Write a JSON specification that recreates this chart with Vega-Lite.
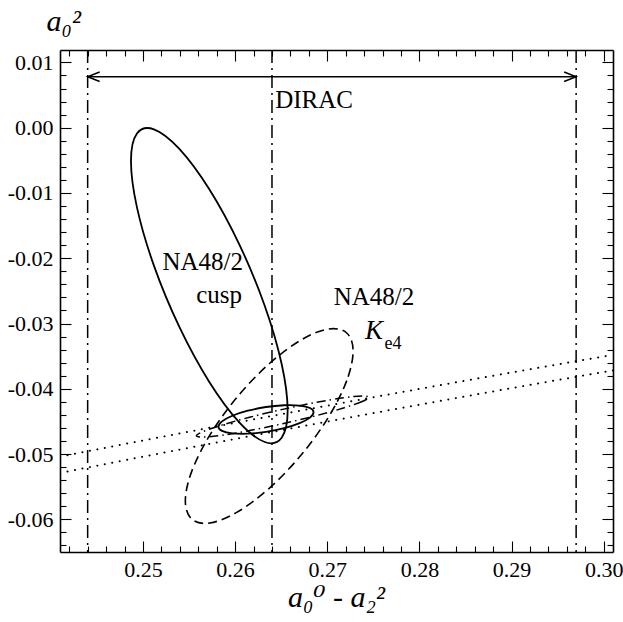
{
  "$schema": "https://vega.github.io/schema/vega-lite/v6.json",
  "width": 553,
  "height": 502,
  "autosize": {"type": "none"},
  "padding": {"left": 60, "top": 50, "right": 10, "bottom": 70},
  "background": "white",
  "config": {
    "view": {"stroke": null},
    "axis": {
      "grid": false,
      "domainColor": "black",
      "domainWidth": 1.6,
      "tickColor": "black",
      "tickWidth": 1.1,
      "labelColor": "black",
      "labelFont": "Liberation Serif, Times New Roman, DejaVu Serif, serif",
      "labelFontSize": 22,
      "labelOverlap": false,
      "labelFlush": false,
      "labelBound": false,
      "titleColor": "black",
      "titleFont": "Liberation Serif, Times New Roman, DejaVu Serif, serif",
      "titleFontWeight": "normal"
    }
  },
  "datasets": {
    "ell": [
      {"c": "cusp", "o": 0, "x": 0.2657, "y": -0.0433},
      {"c": "cusp", "o": 1, "x": 0.26505, "y": -0.0475},
      {"c": "cusp", "o": 2, "x": 0.26321, "y": -0.04815},
      {"c": "cusp", "o": 3, "x": 0.26045, "y": -0.04515},
      {"c": "cusp", "o": 4, "x": 0.2572, "y": -0.03896},
      {"c": "cusp", "o": 5, "x": 0.25395, "y": -0.03053},
      {"c": "cusp", "o": 6, "x": 0.25119, "y": -0.02113},
      {"c": "cusp", "o": 7, "x": 0.24935, "y": -0.0122},
      {"c": "cusp", "o": 8, "x": 0.2487, "y": -0.0051},
      {"c": "cusp", "o": 9, "x": 0.24935, "y": -0.0009},
      {"c": "cusp", "o": 10, "x": 0.25119, "y": -0.00025},
      {"c": "cusp", "o": 11, "x": 0.25395, "y": -0.00325},
      {"c": "cusp", "o": 12, "x": 0.2572, "y": -0.00944},
      {"c": "cusp", "o": 13, "x": 0.26045, "y": -0.01787},
      {"c": "cusp", "o": 14, "x": 0.26321, "y": -0.02727},
      {"c": "cusp", "o": 15, "x": 0.26505, "y": -0.0362},
      {"c": "ke4", "o": 0, "x": 0.2728, "y": -0.03423},
      {"c": "ke4", "o": 1, "x": 0.27211, "y": -0.03875},
      {"c": "ke4", "o": 2, "x": 0.27013, "y": -0.04434},
      {"c": "ke4", "o": 3, "x": 0.26718, "y": -0.05012},
      {"c": "ke4", "o": 4, "x": 0.2637, "y": -0.05524},
      {"c": "ke4", "o": 5, "x": 0.26022, "y": -0.0589},
      {"c": "ke4", "o": 6, "x": 0.25727, "y": -0.06056},
      {"c": "ke4", "o": 7, "x": 0.25529, "y": -0.05995},
      {"c": "ke4", "o": 8, "x": 0.2546, "y": -0.05717},
      {"c": "ke4", "o": 9, "x": 0.25529, "y": -0.05265},
      {"c": "ke4", "o": 10, "x": 0.25727, "y": -0.04706},
      {"c": "ke4", "o": 11, "x": 0.26022, "y": -0.04128},
      {"c": "ke4", "o": 12, "x": 0.2637, "y": -0.03616},
      {"c": "ke4", "o": 13, "x": 0.26718, "y": -0.0325},
      {"c": "ke4", "o": 14, "x": 0.27013, "y": -0.03084},
      {"c": "ke4", "o": 15, "x": 0.27211, "y": -0.03145},
      {"c": "comb", "o": 0, "x": 0.26851, "y": -0.0436},
      {"c": "comb", "o": 1, "x": 0.26812, "y": -0.04441},
      {"c": "comb", "o": 2, "x": 0.267, "y": -0.04527},
      {"c": "comb", "o": 3, "x": 0.26532, "y": -0.04604},
      {"c": "comb", "o": 4, "x": 0.26335, "y": -0.04661},
      {"c": "comb", "o": 5, "x": 0.26138, "y": -0.04688},
      {"c": "comb", "o": 6, "x": 0.2597, "y": -0.04683},
      {"c": "comb", "o": 7, "x": 0.25858, "y": -0.04645},
      {"c": "comb", "o": 8, "x": 0.25819, "y": -0.0458},
      {"c": "comb", "o": 9, "x": 0.25858, "y": -0.04499},
      {"c": "comb", "o": 10, "x": 0.2597, "y": -0.04413},
      {"c": "comb", "o": 11, "x": 0.26138, "y": -0.04336},
      {"c": "comb", "o": 12, "x": 0.26335, "y": -0.04279},
      {"c": "comb", "o": 13, "x": 0.26532, "y": -0.04252},
      {"c": "comb", "o": 14, "x": 0.267, "y": -0.04257},
      {"c": "comb", "o": 15, "x": 0.26812, "y": -0.04295},
      {"c": "dd", "o": 0, "x": 0.2745, "y": -0.0413},
      {"c": "dd", "o": 1, "x": 0.27379, "y": -0.04194},
      {"c": "dd", "o": 2, "x": 0.27176, "y": -0.04294},
      {"c": "dd", "o": 3, "x": 0.26873, "y": -0.04414},
      {"c": "dd", "o": 4, "x": 0.26515, "y": -0.04535},
      {"c": "dd", "o": 5, "x": 0.26157, "y": -0.0464},
      {"c": "dd", "o": 6, "x": 0.25854, "y": -0.04712},
      {"c": "dd", "o": 7, "x": 0.25651, "y": -0.0474},
      {"c": "dd", "o": 8, "x": 0.2558, "y": -0.0472},
      {"c": "dd", "o": 9, "x": 0.25651, "y": -0.04656},
      {"c": "dd", "o": 10, "x": 0.25854, "y": -0.04556},
      {"c": "dd", "o": 11, "x": 0.26157, "y": -0.04436},
      {"c": "dd", "o": 12, "x": 0.26515, "y": -0.04315},
      {"c": "dd", "o": 13, "x": 0.26873, "y": -0.0421},
      {"c": "dd", "o": 14, "x": 0.27176, "y": -0.04138},
      {"c": "dd", "o": 15, "x": 0.27379, "y": -0.0411}
    ],
    "dotted": [
      {"c": "up", "o": 0, "x": 0.241, "y": -0.0504},
      {"c": "up", "o": 1, "x": 0.251, "y": -0.04765},
      {"c": "up", "o": 2, "x": 0.261, "y": -0.04496},
      {"c": "up", "o": 3, "x": 0.271, "y": -0.04233},
      {"c": "up", "o": 4, "x": 0.281, "y": -0.03976},
      {"c": "up", "o": 5, "x": 0.291, "y": -0.03725},
      {"c": "up", "o": 6, "x": 0.301, "y": -0.0348},
      {"c": "lo", "o": 0, "x": 0.241, "y": -0.0529},
      {"c": "lo", "o": 1, "x": 0.251, "y": -0.05013},
      {"c": "lo", "o": 2, "x": 0.261, "y": -0.04742},
      {"c": "lo", "o": 3, "x": 0.271, "y": -0.04477},
      {"c": "lo", "o": 4, "x": 0.281, "y": -0.04218},
      {"c": "lo", "o": 5, "x": 0.291, "y": -0.03965},
      {"c": "lo", "o": 6, "x": 0.301, "y": -0.03718}
    ],
    "vlines": [{"x": 0.244}, {"x": 0.264}, {"x": 0.297}],
    "arrow": [{"x": 0.244, "x2": 0.297, "y": 0.0078}],
    "heads": [{"side": "L", "x": 0.244, "y": 0.0078}, {"side": "R", "x": 0.297, "y": 0.0078}],
    "txtLeft": [
      {"x": 0.26435, "y": 0.0042, "t": "DIRAC"},
      {"x": 0.2707, "y": -0.0259, "t": "NA48/2"}
    ],
    "txtRight": [
      {"x": 0.26085, "y": -0.0206, "t": "NA48/2"},
      {"x": 0.26075, "y": -0.0256, "t": "cusp"}
    ],
    "txtK": [{"x": 0.2741, "y": -0.0311, "t": "K"}],
    "txtSub": [{"x": 0.2762, "y": -0.0331, "t": "e4"}]
  },
  "layer": [
    {
      "encoding": {
        "x": {
          "field": "x", "type": "quantitative",
          "scale": {"domain": [0.241, 0.301], "nice": false, "zero": false},
          "axis": {
            "orient": "bottom",
            "values": [0.242,0.244,0.246,0.248,0.25,0.252,0.254,0.256,0.258,0.26,0.262,0.264,0.266,0.268,0.27,0.272,0.274,0.276,0.278,0.28,0.282,0.284,0.286,0.288,0.29,0.292,0.294,0.296,0.298,0.3],
            "labelExpr": "abs(datum.value*100-round(datum.value*100))<0.01 ? format(datum.value,'.2f') : ''",
            "tickSize": {"condition": {"test": "abs(datum.value*100-round(datum.value*100))<0.01", "value": -11}, "value": -6},
            "labelPadding": 18,
            "title": "a₀⁰ - a₂²",
            "titleFontStyle": "italic",
            "titleFontSize": 30,
            "titleX": 276,
            "titleY": 54,
            "titleAlign": "center",
            "titleBaseline": "alphabetic"
          }
        },
        "y": {
          "field": "y", "type": "quantitative",
          "scale": {"domain": [-0.065, 0.0119], "nice": false, "zero": false},
          "axis": {
            "orient": "left",
            "values": [-0.064,-0.062,-0.06,-0.058,-0.056,-0.054,-0.052,-0.05,-0.048,-0.046,-0.044,-0.042,-0.04,-0.038,-0.036,-0.034,-0.032,-0.03,-0.028,-0.026,-0.024,-0.022,-0.02,-0.018,-0.016,-0.014,-0.012,-0.01,-0.008,-0.006,-0.004,-0.002,0,0.002,0.004,0.006,0.008,0.01],
            "labelExpr": "abs(datum.value*100-round(datum.value*100))<0.01 ? replace(format(datum.value,'.2f'),'−','-') : ''",
            "tickSize": {"condition": {"test": "abs(datum.value*100-round(datum.value*100))<0.01", "value": -11}, "value": -6},
            "labelPadding": 18,
            "title": "a₀²",
            "titleFontStyle": "italic",
            "titleFontSize": 30,
            "titleAngle": 0,
            "titleX": -14,
            "titleY": -20,
            "titleAlign": "left",
            "titleBaseline": "alphabetic"
          }
        }
      },
      "layer": [
        {
          "data": {"name": "ell"},
          "transform": [{"filter": "datum.c === 'cusp' || datum.c === 'comb'"}],
          "mark": {"type": "line", "interpolate": "cardinal-closed", "color": "black", "strokeWidth": 1.8, "clip": true},
          "encoding": {"detail": {"field": "c"}, "order": {"field": "o", "type": "quantitative"}}
        },
        {
          "data": {"name": "ell"},
          "transform": [{"filter": "datum.c === 'ke4'"}],
          "mark": {"type": "line", "interpolate": "cardinal-closed", "color": "black", "strokeWidth": 1.6, "strokeDash": [9, 5], "clip": true},
          "encoding": {"order": {"field": "o", "type": "quantitative"}}
        },
        {
          "data": {"name": "ell"},
          "transform": [{"filter": "datum.c === 'dd'"}],
          "mark": {"type": "line", "interpolate": "cardinal-closed", "color": "black", "strokeWidth": 1.5, "strokeDash": [9, 4, 1.5, 4], "clip": true},
          "encoding": {"order": {"field": "o", "type": "quantitative"}}
        },
        {
          "data": {"name": "dotted"},
          "mark": {"type": "line", "interpolate": "monotone", "color": "black", "strokeWidth": 2, "strokeDash": [0.1, 7.5], "strokeCap": "round", "clip": true},
          "encoding": {"detail": {"field": "c"}, "order": {"field": "o", "type": "quantitative"}}
        },
        {
          "data": {"name": "heads"},
          "mark": {"type": "point", "filled": false, "color": "black", "strokeWidth": 1.5, "size": 144, "opacity": 1},
          "encoding": {
            "shape": {"field": "side", "type": "nominal", "legend": null,
              "scale": {"domain": ["L", "R"], "range": ["M 2 -0.8 L 0 0 L 2 0.8", "M -2 -0.8 L 0 0 L -2 0.8"]}}
          }
        },
        {
          "data": {"name": "txtLeft"},
          "mark": {"type": "text", "font": "Liberation Serif, Times New Roman, DejaVu Serif, serif", "fontSize": 25, "align": "left", "baseline": "middle", "color": "black"},
          "encoding": {"text": {"field": "t"}}
        },
        {
          "data": {"name": "txtRight"},
          "mark": {"type": "text", "font": "Liberation Serif, Times New Roman, DejaVu Serif, serif", "fontSize": 25, "align": "right", "baseline": "middle", "color": "black"},
          "encoding": {"text": {"field": "t"}}
        },
        {
          "data": {"name": "txtK"},
          "mark": {"type": "text", "font": "Liberation Serif, Times New Roman, DejaVu Serif, serif", "fontSize": 27, "fontStyle": "italic", "align": "left", "baseline": "middle", "color": "black"},
          "encoding": {"text": {"field": "t"}}
        },
        {
          "data": {"name": "txtSub"},
          "mark": {"type": "text", "font": "Liberation Serif, Times New Roman, DejaVu Serif, serif", "fontSize": 18, "align": "left", "baseline": "middle", "color": "black"},
          "encoding": {"text": {"field": "t"}}
        }
      ]
    },
    {
      "data": {"name": "arrow"},
      "mark": {"type": "rule", "color": "black", "strokeWidth": 1.6},
      "encoding": {
        "x": {
          "field": "x", "type": "quantitative",
          "scale": {"domain": [0.241, 0.301], "nice": false, "zero": false},
          "axis": {
            "orient": "top",
            "values": [0.242,0.244,0.246,0.248,0.25,0.252,0.254,0.256,0.258,0.26,0.262,0.264,0.266,0.268,0.27,0.272,0.274,0.276,0.278,0.28,0.282,0.284,0.286,0.288,0.29,0.292,0.294,0.296,0.298,0.3],
            "labels": false,
            "title": null,
            "tickSize": {"condition": {"test": "abs(datum.value*100-round(datum.value*100))<0.01", "value": -11}, "value": -6}
          }
        },
        "x2": {"field": "x2"},
        "y": {
          "field": "y", "type": "quantitative",
          "scale": {"domain": [-0.065, 0.0119], "nice": false, "zero": false},
          "axis": {
            "orient": "right",
            "values": [-0.064,-0.062,-0.06,-0.058,-0.056,-0.054,-0.052,-0.05,-0.048,-0.046,-0.044,-0.042,-0.04,-0.038,-0.036,-0.034,-0.032,-0.03,-0.028,-0.026,-0.024,-0.022,-0.02,-0.018,-0.016,-0.014,-0.012,-0.01,-0.008,-0.006,-0.004,-0.002,0,0.002,0.004,0.006,0.008,0.01],
            "labels": false,
            "title": null,
            "tickSize": {"condition": {"test": "abs(datum.value*100-round(datum.value*100))<0.01", "value": -11}, "value": -6}
          }
        }
      }
    },
    {
      "data": {"name": "vlines"},
      "mark": {"type": "rule", "color": "black", "strokeWidth": 1.5, "strokeDash": [13, 5, 2, 5]},
      "encoding": {
        "x": {"field": "x", "type": "quantitative", "scale": {"domain": [0.241, 0.301], "nice": false, "zero": false}, "axis": null}
      }
    }
  ],
  "resolve": {"axis": {"x": "independent", "y": "independent"}}
}
